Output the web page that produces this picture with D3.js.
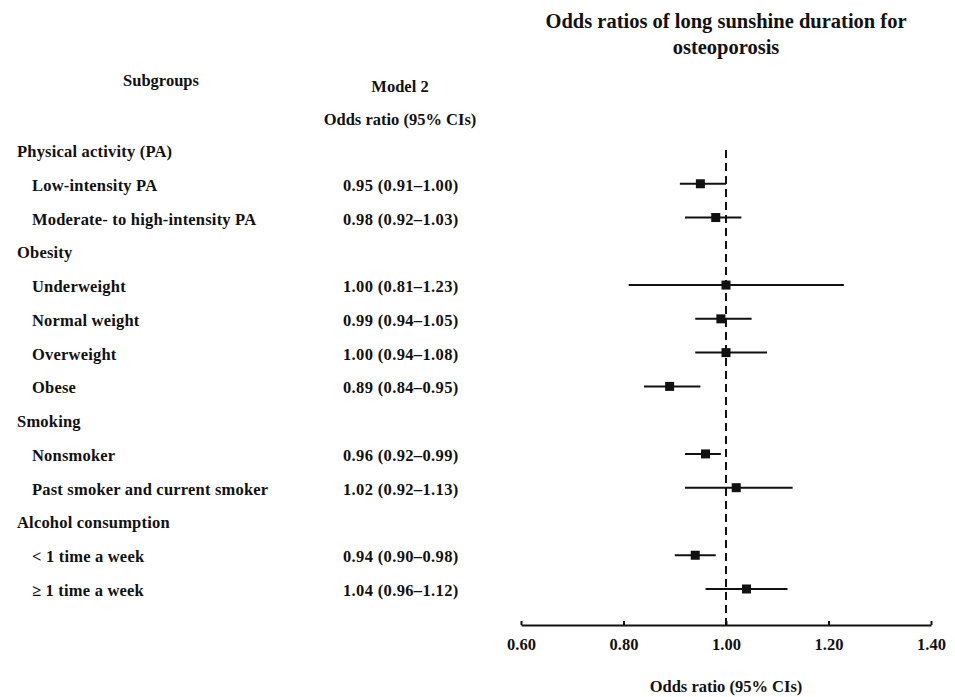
<!DOCTYPE html>
<html>
<head>
<meta charset="utf-8">
<script src="https://cdn.jsdelivr.net/npm/d3@7"></script>
<style>
  body { margin: 0; background: #fff; }
  svg text { font-family: "Liberation Serif", "Times New Roman", serif; font-weight: bold; fill: #111; }
</style>
</head>
<body>
<svg id="chart" width="955" height="697"></svg>
<script>
// Data
const labels = ["Physical activity (PA)", "Low-intensity PA", "Moderate- to high-intensity PA",
  "Obesity", "Underweight", "Normal weight", "Overweight", "Obese",
  "Smoking", "Nonsmoker", "Past smoker and current smoker",
  "Alcohol consumption", "< 1 time a week", "\u2265 1 time a week"];
const isHeader = [true, false, false, true, false, false, false, false, true, false, false, true, false, false];
const estimates = [null, 0.95, 0.98, null, 1.00, 0.99, 1.00, 0.89, null, 0.96, 1.02, null, 0.94, 1.04];
const lowerCI = [null, 0.91, 0.92, null, 0.81, 0.94, 0.94, 0.84, null, 0.92, 0.92, null, 0.90, 0.96];
const upperCI = [null, 1.00, 1.03, null, 1.23, 1.05, 1.08, 0.95, null, 0.99, 1.13, null, 0.98, 1.12];
const xTicks = [0.60, 0.80, 1.00, 1.20, 1.40];

const svg = d3.select("#chart");
const fs = "16.5px";

const x = d3.scaleLinear().domain([0.6, 1.4]).range([521, 931]);
const y = d3.scaleLinear().domain([0, labels.length - 1]).range([152, 591]);
const axisY = 625;
const fmt = d3.format(".2f");

// Title
svg.append("text").attr("x", 726).attr("y", 28).attr("text-anchor", "middle")
  .style("font-size", "20.5px").text("Odds ratios of long sunshine duration for");
svg.append("text").attr("x", 726).attr("y", 54).attr("text-anchor", "middle")
  .style("font-size", "20.5px").text("osteoporosis");

// Column headers
svg.append("text").attr("x", 161).attr("y", 86).attr("text-anchor", "middle")
  .style("font-size", fs).text("Subgroups");
svg.append("text").attr("x", 400).attr("y", 92).attr("text-anchor", "middle")
  .style("font-size", fs).text("Model 2");
svg.append("text").attr("x", 400).attr("y", 125).attr("text-anchor", "middle")
  .style("font-size", fs).text("Odds ratio (95% CIs)");

// Row labels
const rows = labels.map((l, i) => ({ label: l, header: isHeader[i], est: estimates[i], lo: lowerCI[i], hi: upperCI[i], i }));

svg.append("g").selectAll("text").data(rows).join("text")
  .attr("x", d => d.header ? 17 : 32)
  .attr("y", d => y(d.i) + 5)
  .style("font-size", fs)
  .style("letter-spacing", "0.2px")
  .text(d => d.label);

const dataRows = rows.filter(d => !d.header);

svg.append("g").selectAll("text").data(dataRows).join("text")
  .attr("x", 343)
  .attr("y", d => y(d.i) + 5)
  .style("font-size", fs)
  .style("letter-spacing", "0.35px")
  .text(d => `${fmt(d.est)} (${fmt(d.lo)}\u2013${fmt(d.hi)})`);

// Reference line
svg.append("line")
  .attr("x1", x(1)).attr("x2", x(1))
  .attr("y1", 150).attr("y2", axisY)
  .attr("stroke", "#111").attr("stroke-width", 2)
  .attr("stroke-dasharray", "8 5");

// CI lines and markers
const g = svg.append("g");
g.selectAll("line.ci").data(dataRows).join("line")
  .attr("class", "ci")
  .attr("x1", d => x(d.lo)).attr("x2", d => x(d.hi))
  .attr("y1", d => y(d.i) - 2).attr("y2", d => y(d.i) - 2)
  .attr("stroke", "#111").attr("stroke-width", 2);

g.selectAll("rect").data(dataRows).join("rect")
  .attr("x", d => x(d.est) - 4.5).attr("y", d => y(d.i) - 6.5)
  .attr("width", 9).attr("height", 9)
  .attr("fill", "#111");

// Axis
const axis = svg.append("g").attr("transform", `translate(0,${axisY})`)
  .call(d3.axisTop(x).tickValues(xTicks).tickSize(4).tickSizeOuter(0).tickFormat(fmt));
axis.select(".domain").attr("stroke", "#111").attr("stroke-width", 2);
axis.selectAll(".tick line").attr("stroke", "#111").attr("stroke-width", 2);
axis.selectAll(".tick text")
  .attr("y", 25).attr("dy", 0)
  .style("font-size", fs);

svg.append("text").attr("x", 726).attr("y", 692).attr("text-anchor", "middle")
  .style("font-size", fs).text("Odds ratio (95% CIs)");
</script>
</body>
</html>
